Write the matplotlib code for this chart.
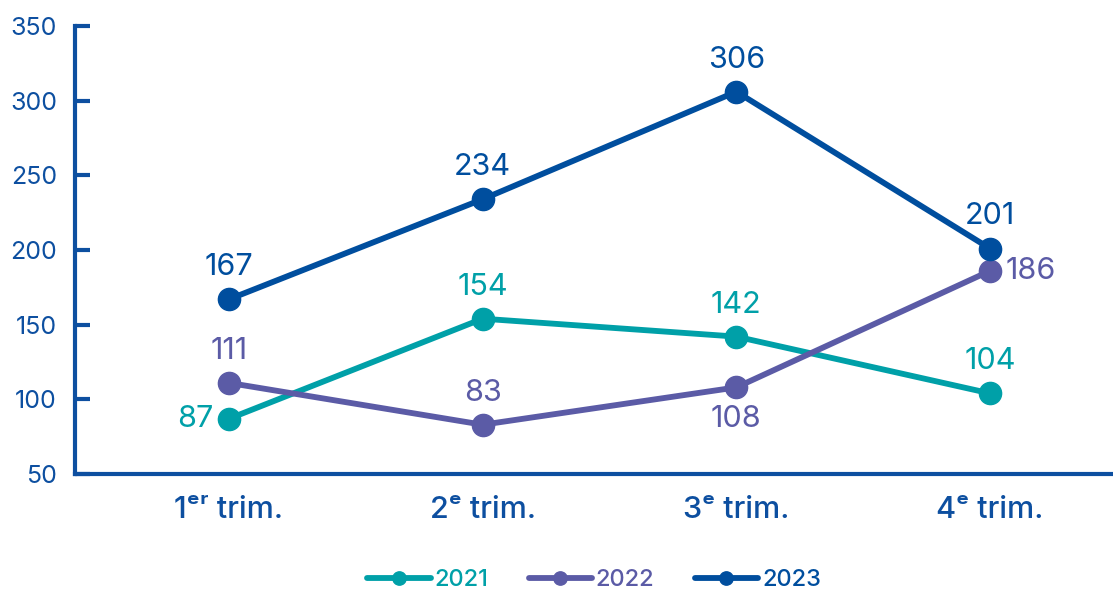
import matplotlib
matplotlib.use("Agg")
import matplotlib.pyplot as plt

plt.rcParams['font.family'] = ['Inter', 'DejaVu Sans']

categories = ["1ᵉʳ trim.", "2ᵉ trim.", "3ᵉ trim.", "4ᵉ trim."]
years = ["2021", "2022", "2023"]
v2021 = [87, 154, 142, 104]
v2022 = [111, 83, 108, 186]
v2023 = [167, 234, 306, 201]
yticks = [50, 100, 150, 200, 250, 300, 350]

colors = {"2021": "#00A0A8", "2022": "#5B5BA6", "2023": "#004E9E"}
axis_color = "#0D4FA0"
series = {"2021": v2021, "2022": v2022, "2023": v2023}

placements = {
    "2021": ["left", "above", "above", "above"],
    "2022": ["above", "above", "below", "right"],
    "2023": ["above", "above", "above", "above"],
}
offs = {"above": (0, 13, "center", "bottom"),
        "below": (0, -13, "center", "top"),
        "left": (-11, 0, "right", "center"),
        "right": (11, 0, "left", "center")}

fig = plt.figure(figsize=(11.13, 5.94), dpi=100)
ax = fig.add_axes([75/1113, 1 - 474/594, 1 - 75/1113, (474 - 26)/594])
x = list(range(len(categories)))
for y in years:
    ax.plot(x, series[y], color=colors[y], lw=4.2, marker='o', ms=16,
            solid_capstyle='round', label=y, zorder=3)
    for i, v in enumerate(series[y]):
        dx, dy, ha, va = offs[placements[y][i]]
        ax.annotate(str(v), (i, v), xytext=(dx, dy), textcoords='offset points',
                    ha=ha, va=va, fontsize=22, color=colors[y], zorder=4)

ax.set_xlim(-0.607, 3.485)
ax.set_ylim(50, 350)
ax.set_yticks(yticks)
ax.set_xticks(x)
ax.set_xticklabels(categories, fontsize=22, fontweight='medium', color=axis_color)
for lab in ax.get_yticklabels():
    lab.set_fontsize(18)
    lab.set_color(axis_color)
ax.tick_params(axis='y', direction='in', length=11, width=3, color=axis_color, pad=13)
ax.tick_params(axis='x', length=0, pad=16)
for s in ['top', 'right']:
    ax.spines[s].set_visible(False)
for s in ['left', 'bottom']:
    ax.spines[s].set_color(axis_color)
    ax.spines[s].set_linewidth(3)

leg = fig.legend(loc='center', bbox_to_anchor=(594/1113, 1 - 580/594), ncol=3,
                 frameon=False, handlelength=2.7, columnspacing=1.7, handletextpad=0.15,
                 prop={'size': 17, 'weight': 'medium'}, markerscale=0.6)
for t, y in zip(leg.get_texts(), years):
    t.set_color(colors[y])

fig.savefig("out.png", dpi=100)
